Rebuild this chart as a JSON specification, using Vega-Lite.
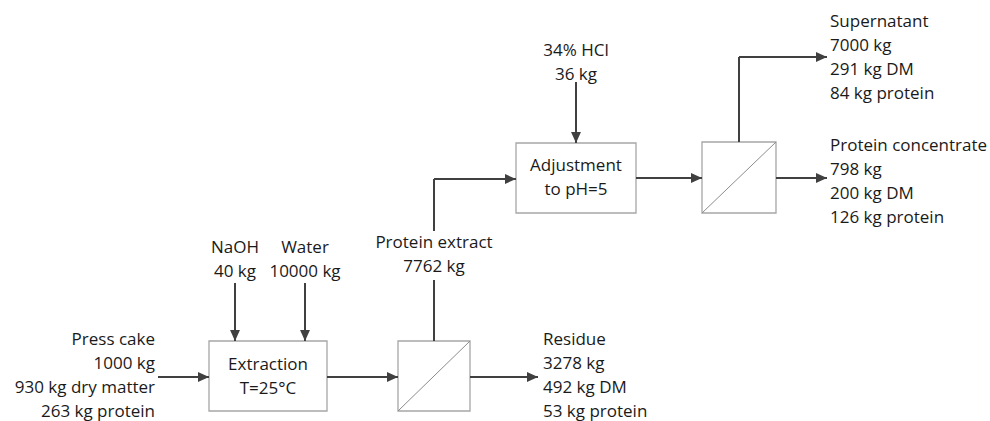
{
  "$schema": "https://vega.github.io/schema/vega-lite/v6.json",
  "width": 990,
  "height": 421,
  "autosize": {"type": "fit", "contains": "padding"},
  "padding": 0,
  "background": "white",
  "config": {"view": {"stroke": null}},
  "datasets": {
    "segs": [
      {"x": 158, "y": 377, "x2": 209, "y2": 377},
      {"x": 235, "y": 283, "x2": 235, "y2": 341},
      {"x": 305, "y": 283, "x2": 305, "y2": 341},
      {"x": 327, "y": 377, "x2": 398, "y2": 377},
      {"x": 470, "y": 377, "x2": 538, "y2": 377},
      {"x": 434, "y": 341, "x2": 434, "y2": 280},
      {"x": 434, "y": 231, "x2": 434, "y2": 179},
      {"x": 434, "y": 179, "x2": 516, "y2": 179},
      {"x": 576, "y": 82, "x2": 576, "y2": 143},
      {"x": 636, "y": 178, "x2": 702, "y2": 178},
      {"x": 739, "y": 142, "x2": 739, "y2": 57},
      {"x": 739, "y": 57, "x2": 827, "y2": 57},
      {"x": 776, "y": 178, "x2": 827, "y2": 178}
    ],
    "arrows": [
      {"x": 209, "y": 377, "angle": 0},
      {"x": 235, "y": 341, "angle": 90},
      {"x": 305, "y": 341, "angle": 90},
      {"x": 398, "y": 377, "angle": 0},
      {"x": 538, "y": 377, "angle": 0},
      {"x": 516, "y": 179, "angle": 0},
      {"x": 576, "y": 143, "angle": 90},
      {"x": 702, "y": 178, "angle": 0},
      {"x": 827, "y": 57, "angle": 0},
      {"x": 827, "y": 178, "angle": 0}
    ],
    "boxes": [
      {"x": 209, "x2": 327, "y": 341, "y2": 411},
      {"x": 398, "x2": 470, "y": 341, "y2": 411},
      {"x": 516, "x2": 636, "y": 143, "y2": 213},
      {"x": 702, "x2": 776, "y": 142, "y2": 213}
    ],
    "diags": [
      {"x": 398, "y": 411, "x2": 470, "y2": 341},
      {"x": 702, "y": 213, "x2": 776, "y2": 142}
    ],
    "labels": [
      {"x": 235, "y": 248, "text": "NaOH", "align": "center"},
      {"x": 235, "y": 272, "text": "40 kg", "align": "center"},
      {"x": 305, "y": 248, "text": "Water", "align": "center"},
      {"x": 305, "y": 272, "text": "10000 kg", "align": "center"},
      {"x": 268, "y": 365, "text": "Extraction", "align": "center"},
      {"x": 268, "y": 389, "text": "T=25°C", "align": "center"},
      {"x": 434, "y": 243, "text": "Protein extract", "align": "center"},
      {"x": 434, "y": 267, "text": "7762 kg", "align": "center"},
      {"x": 576, "y": 51, "text": "34% HCl", "align": "center"},
      {"x": 576, "y": 75, "text": "36 kg", "align": "center"},
      {"x": 576, "y": 166, "text": "Adjustment", "align": "center"},
      {"x": 576, "y": 190, "text": "to pH=5", "align": "center"},
      {"x": 155, "y": 340, "text": "Press cake", "align": "right"},
      {"x": 155, "y": 364, "text": "1000 kg", "align": "right"},
      {"x": 155, "y": 388, "text": "930 kg dry matter", "align": "right"},
      {"x": 155, "y": 412, "text": "263 kg protein", "align": "right"},
      {"x": 543, "y": 340, "text": "Residue", "align": "left"},
      {"x": 543, "y": 364, "text": "3278 kg", "align": "left"},
      {"x": 543, "y": 388, "text": "492 kg DM", "align": "left"},
      {"x": 543, "y": 412, "text": "53 kg protein", "align": "left"},
      {"x": 830, "y": 22, "text": "Supernatant", "align": "left"},
      {"x": 830, "y": 46, "text": "7000 kg", "align": "left"},
      {"x": 830, "y": 70, "text": "291 kg DM", "align": "left"},
      {"x": 830, "y": 94, "text": "84 kg protein", "align": "left"},
      {"x": 830, "y": 146, "text": "Protein concentrate", "align": "left"},
      {"x": 830, "y": 170, "text": "798 kg", "align": "left"},
      {"x": 830, "y": 194, "text": "200 kg DM", "align": "left"},
      {"x": 830, "y": 218, "text": "126 kg protein", "align": "left"}
    ]
  },
  "layer": [
    {
      "data": {"name": "boxes"},
      "mark": {"type": "rect", "fill": "white", "stroke": "#a6a6a6", "strokeWidth": 1.3},
      "encoding": {
        "x": {"field": "x", "type": "quantitative", "scale": {"domain": [0, 990]}, "axis": null},
        "x2": {"field": "x2"},
        "y": {"field": "y", "type": "quantitative", "scale": {"domain": [0, 421], "reverse": true}, "axis": null},
        "y2": {"field": "y2"}
      }
    },
    {
      "data": {"name": "diags"},
      "mark": {"type": "rule", "stroke": "#8c8c8c", "strokeWidth": 1},
      "encoding": {
        "x": {"field": "x", "type": "quantitative", "scale": {"domain": [0, 990]}, "axis": null},
        "x2": {"field": "x2"},
        "y": {"field": "y", "type": "quantitative", "scale": {"domain": [0, 421], "reverse": true}, "axis": null},
        "y2": {"field": "y2"}
      }
    },
    {
      "data": {"name": "segs"},
      "mark": {"type": "rule", "stroke": "#404040", "strokeWidth": 2},
      "encoding": {
        "x": {"field": "x", "type": "quantitative", "scale": {"domain": [0, 990]}, "axis": null},
        "x2": {"field": "x2"},
        "y": {"field": "y", "type": "quantitative", "scale": {"domain": [0, 421], "reverse": true}, "axis": null},
        "y2": {"field": "y2"}
      }
    },
    {
      "data": {"name": "arrows"},
      "mark": {"type": "point", "filled": true, "color": "#404040", "opacity": 1, "shape": "M0,0L-1,-0.45L-1,0.45Z", "size": 484},
      "encoding": {
        "x": {"field": "x", "type": "quantitative", "scale": {"domain": [0, 990]}, "axis": null},
        "y": {"field": "y", "type": "quantitative", "scale": {"domain": [0, 421], "reverse": true}, "axis": null},
        "angle": {"field": "angle", "type": "quantitative", "scale": null}
      }
    },
    {
      "data": {"name": "labels"},
      "transform": [{"filter": "datum.align === 'center'"}],
      "mark": {"type": "text", "align": "center", "baseline": "middle", "font": "Open Sans", "fontSize": 17, "color": "#1a1a1a"},
      "encoding": {
        "x": {"field": "x", "type": "quantitative", "scale": {"domain": [0, 990]}, "axis": null},
        "y": {"field": "y", "type": "quantitative", "scale": {"domain": [0, 421], "reverse": true}, "axis": null},
        "text": {"field": "text"}
      }
    },
    {
      "data": {"name": "labels"},
      "transform": [{"filter": "datum.align === 'right'"}],
      "mark": {"type": "text", "align": "right", "baseline": "middle", "font": "Open Sans", "fontSize": 17, "color": "#1a1a1a"},
      "encoding": {
        "x": {"field": "x", "type": "quantitative", "scale": {"domain": [0, 990]}, "axis": null},
        "y": {"field": "y", "type": "quantitative", "scale": {"domain": [0, 421], "reverse": true}, "axis": null},
        "text": {"field": "text"}
      }
    },
    {
      "data": {"name": "labels"},
      "transform": [{"filter": "datum.align === 'left'"}],
      "mark": {"type": "text", "align": "left", "baseline": "middle", "font": "Open Sans", "fontSize": 17, "color": "#1a1a1a"},
      "encoding": {
        "x": {"field": "x", "type": "quantitative", "scale": {"domain": [0, 990]}, "axis": null},
        "y": {"field": "y", "type": "quantitative", "scale": {"domain": [0, 421], "reverse": true}, "axis": null},
        "text": {"field": "text"}
      }
    }
  ]
}
